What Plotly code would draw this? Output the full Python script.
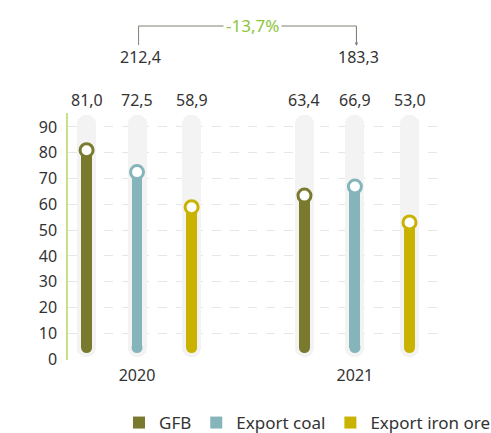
import plotly.graph_objects as go

# Data
years = ["2020", "2021"]
series_names = ["GFB", "Export coal", "Export iron ore"]
gfb = [81.0, 63.4]
export_coal = [72.5, 66.9]
export_iron_ore = [58.9, 53.0]
y_ticks = [0, 10, 20, 30, 40, 50, 60, 70, 80, 90]

series_values = [gfb, export_coal, export_iron_ore]
colors = ["#7a7a2e", "#85b5bb", "#c9b300"]

# Layout geometry (numeric x axis: one unit = gap between neighbouring bars)
group_centers = [0.0, 4.19]
offsets = [-0.97, 0.0, 1.05]
BAR_BASE = 4.5
TRACK_BOTTOM = 0.8
TRACK_TOP = 94.5
TRACK_CAP = 4.0          # height of the rounded end, in axis units
TRACK_WIDTH = 0.365
BAR_WIDTH = 0.21
TRACK_COLOR = "#f3f3f3"

FONT = "Noto Sans"
TEXT = "#333333"


def fmt(v, nd=1):
    return f"{v:.{nd}f}".replace(".", ",")


positions = [[c + off for c in group_centers] for off in offsets]
all_x = [x for xs in positions for x in xs]

fig = go.Figure()

# Grey background tracks: a long bar rounded at the top ...
fig.add_trace(go.Bar(
    x=all_x, y=[TRACK_TOP - TRACK_BOTTOM - TRACK_CAP] * len(all_x),
    base=TRACK_BOTTOM + TRACK_CAP, width=TRACK_WIDTH,
    marker=dict(color=TRACK_COLOR, cornerradius="50%", line_width=0),
    showlegend=False, hoverinfo="skip"))
# ... and a short downward bar giving the rounded bottom
fig.add_trace(go.Bar(
    x=all_x, y=[-3 * TRACK_CAP] * len(all_x),
    base=TRACK_BOTTOM + 3 * TRACK_CAP, width=TRACK_WIDTH,
    marker=dict(color=TRACK_COLOR, cornerradius="50%", line_width=0),
    showlegend=False, hoverinfo="skip"))

# Coloured value bars
for name, vals, xs, col in zip(series_names, series_values, positions, colors):
    fig.add_trace(go.Bar(
        x=xs, y=[v - BAR_BASE for v in vals], base=BAR_BASE, width=BAR_WIDTH,
        name=name, marker=dict(color=col, line_width=0),
        hovertemplate=name + ": %{customdata}<extra></extra>",
        customdata=[fmt(v) for v in vals]))

for name, vals, xs, col in zip(series_names, series_values, positions, colors):
    # rounded bottom of the bar
    fig.add_trace(go.Scatter(
        x=xs, y=[BAR_BASE] * len(xs), mode="markers",
        marker=dict(size=11, color=col, line_width=0),
        showlegend=False, hoverinfo="skip"))
    # open circle at the value
    fig.add_trace(go.Scatter(
        x=xs, y=vals, mode="markers",
        marker=dict(size=13, color="white", line=dict(color=col, width=3)),
        showlegend=False, hoverinfo="skip"))

# Paper coordinate helpers: plot area spans pixels 68..438 (x) and 113..360 (y)
PLOT_TOP, PLOT_BOTTOM = 113, 360
PLOT_LEFT, PLOT_RIGHT = 68, 438


def py(pixel_y):
    return (PLOT_BOTTOM - pixel_y) / (PLOT_BOTTOM - PLOT_TOP)


def px(pixel_x):
    return (pixel_x - PLOT_LEFT) / (PLOT_RIGHT - PLOT_LEFT)


annotations = []
# Value labels above each bar
for vals, xs in zip(series_values, positions):
    for v, x in zip(vals, xs):
        annotations.append(dict(
            x=x, xref="x", y=py(100), yref="paper", text=fmt(v),
            showarrow=False, font=dict(family=FONT, size=16, color=TEXT),
            xanchor="center", yanchor="middle"))

# Yearly totals
totals = [sum(s[i] for s in series_values) for i in range(len(years))]
for c, t in zip(group_centers, totals):
    annotations.append(dict(
        x=c + 0.06, xref="x", y=py(57), yref="paper", text=fmt(t),
        showarrow=False, font=dict(family=FONT, size=16, color=TEXT),
        xanchor="center", yanchor="middle"))

# Change between years
change = (totals[1] - totals[0]) / totals[0] * 100
annotations.append(dict(
    x=(group_centers[0] + group_centers[1]) / 2 + 0.13, xref="x", y=py(26), yref="paper",
    text=fmt(change) + "%", showarrow=False, bgcolor="white", borderpad=2,
    font=dict(family=FONT, size=17, color="#8cc63e"),
    xanchor="center", yanchor="middle"))

# Arrow head on the right leg of the bracket
annotations.append(dict(
    x=group_centers[1] + 0.03, xref="x", y=py(46), yref="paper", text="",
    showarrow=True, ax=0, ay=-20, arrowhead=2, arrowsize=0.7,
    arrowwidth=1, arrowcolor="#808075"))

shapes = [dict(
    type="path", xref="x", yref="paper",
    path=(f"M {group_centers[0] + 0.03},{py(45)} L {group_centers[0] + 0.03},{py(26)} "
          f"L {group_centers[1] + 0.03},{py(26)} L {group_centers[1] + 0.03},{py(40)}"),
    line=dict(color="#808075", width=1), layer="above")]

fig.update_layout(
    width=491, height=433,
    margin=dict(l=68, r=53, t=113, b=73, autoexpand=False),
    paper_bgcolor="white", plot_bgcolor="white",
    barmode="overlay", bargap=0,
    font=dict(family=FONT, size=16, color=TEXT),
    annotations=annotations, shapes=shapes,
    legend=dict(orientation="h", x=px(495), xanchor="right",
                y=py(405), yanchor="top", bgcolor="rgba(0,0,0,0)",
                font=dict(family=FONT, size=17, color=TEXT),
                itemwidth=30, tracegroupgap=0),
    xaxis=dict(range=[-1.327, 5.788], tickvals=group_centers, ticktext=years,
               showgrid=False, zeroline=False, showline=False, ticks="",
               ticklabelstandoff=4,
               tickfont=dict(family=FONT, size=16, color=TEXT), fixedrange=True),
    yaxis=dict(range=[-0.3, 95.4], tickvals=y_ticks, showgrid=True,
               gridcolor="#e6e6e6", griddash="dash", gridwidth=1,
               zeroline=False, showline=True, linecolor="#c8e08a", linewidth=1.5,
               ticks="", ticklabelstandoff=6,
               tickfont=dict(family=FONT, size=16, color=TEXT), fixedrange=True),
)

fig.write_html("out.html")
